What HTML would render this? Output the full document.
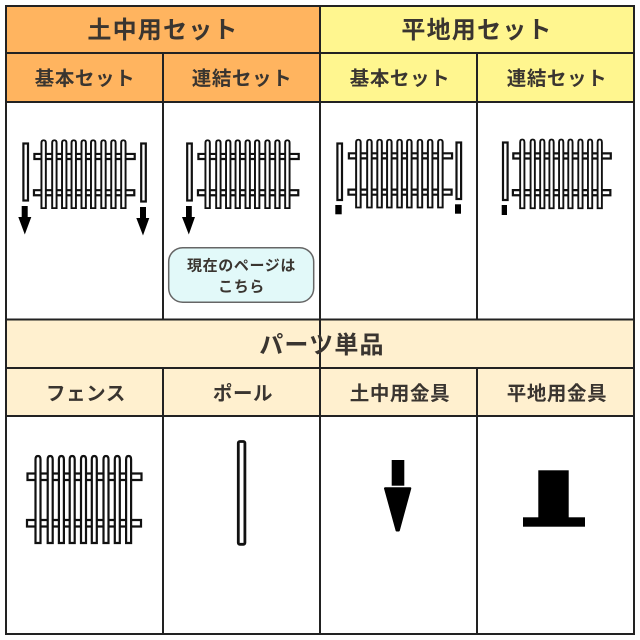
<!DOCTYPE html>
<html lang="ja">
<head>
<meta charset="utf-8">
<title>セット一覧</title>
<style>
html,body{margin:0;padding:0;background:#fff;width:640px;height:640px;overflow:hidden}
svg{display:block}
text{font-family:"Liberation Sans","Noto Sans CJK JP",sans-serif;font-weight:700;fill:#3a3530;text-anchor:middle}
.h1{font-size:24px;letter-spacing:1.2px}
.h2{font-size:19.5px;letter-spacing:.6px}
.h3{font-size:15px;letter-spacing:.6px}
.ln{stroke:#222;stroke-width:2;fill:none}
.o{fill:#fff;stroke:#111;stroke-width:2.2;vector-effect:non-scaling-stroke}
.p{fill:#fff;stroke:#111;stroke-width:2.2}
.k{fill:#000}
</style>
</head>
<body>
<svg width="640" height="640" viewBox="0 0 640 640" xmlns="http://www.w3.org/2000/svg">
<defs>
  <path id="pk" d="M35.5 543V459.5Q35.5 456 38 456Q40.5 456 40.5 459.5V543Z"/>
  <g id="fence">
    <rect class="o" x="27.5" y="473.5" width="114" height="6.5"/>
    <rect class="o" x="27" y="520" width="114" height="6.5"/>
    <use href="#pk" class="o" x="0"/>
    <use href="#pk" class="o" x="12.2"/>
    <use href="#pk" class="o" x="23.4"/>
    <use href="#pk" class="o" x="34.2"/>
    <use href="#pk" class="o" x="45.5"/>
    <use href="#pk" class="o" x="56.3"/>
    <use href="#pk" class="o" x="68"/>
    <use href="#pk" class="o" x="79.3"/>
    <use href="#pk" class="o" x="90.6"/>
  </g>
</defs>

<rect width="640" height="640" fill="#fff"/>

<!-- header fills -->
<rect x="6" y="6" width="314" height="96" fill="#ffb45f"/>
<rect x="320" y="6" width="314" height="96" fill="#fff68f"/>
<rect x="6" y="319" width="628" height="97" fill="#fff0cf"/>

<!-- grid -->
<path class="ln" d="M6 6H634V634H6Z"/>
<path class="ln" d="M6 53H634M6 102H634M6 319.5H634M6 368H634M6 416H634"/>
<path class="ln" d="M320 6V368M163 53V319M477 53V319M163 368V634M320 368V634M477 368V634"/>

<!-- headers -->
<text class="h1" x="163" y="38">土中用セット</text>
<text class="h1" x="477" y="38">平地用セット</text>
<text class="h2" x="85" y="85">基本セット</text>
<text class="h2" x="242" y="85">連結セット</text>
<text class="h2" x="400" y="85">基本セット</text>
<text class="h2" x="557" y="85">連結セット</text>
<text class="h1" x="322" y="353">パーツ単品</text>
<text class="h2" x="86" y="400">フェンス</text>
<text class="h2" x="243" y="400">ポール</text>
<text class="h2" x="400" y="400">土中用金具</text>
<text class="h2" x="557" y="400">平地用金具</text>

<!-- cell 1 -->
<use href="#fence" transform="translate(10.2 -215.4) scale(.88 .78)"/>
<rect class="p" x="23.4" y="143.5" width="4.6" height="57"/>
<rect class="p" x="141.2" y="143.5" width="4.6" height="58"/>
<path class="k" d="M21.7 206H27.7V217H31.3L24.8 234.5L18.3 217H21.7Z"/>
<path class="k" d="M140 207H146V218H149.3L143 235.5L136.3 218H140Z"/>

<!-- cell 2 -->
<use href="#fence" transform="translate(174.2 -215.4) scale(.88 .78)"/>
<rect class="p" x="187.2" y="143.5" width="4.6" height="57"/>
<path class="k" d="M186 206H191.8V217H195L188.8 234.5L182 217H186Z"/>
<rect x="168.7" y="247.7" width="145" height="54.5" rx="14" fill="#e2f9f9" stroke="#666" stroke-width="1.5"/>
<text class="h3" x="241.5" y="270.5">現在のページは</text>
<text class="h3" x="241.5" y="291.5">こちら</text>

<!-- cell 3 -->
<use href="#fence" transform="translate(324 -216) scale(.905 .78)"/>
<rect class="p" x="337.4" y="143.5" width="4.6" height="56.5"/>
<rect class="p" x="456.5" y="142.5" width="4.6" height="56.5"/>
<rect class="k" x="335.3" y="205" width="6.4" height="9.3"/>
<rect class="k" x="455" y="204.3" width="6" height="9.4"/>

<!-- cell 4 -->
<use href="#fence" transform="translate(489.8 -220.7) scale(.855 .79)"/>
<rect class="p" x="503" y="142.5" width="4.6" height="57.5"/>
<rect class="k" x="501.7" y="205" width="5.3" height="10"/>

<!-- parts -->
<use href="#fence"/>
<rect x="238.3" y="441.5" width="6.6" height="102.8" rx="1.5" fill="#fff" stroke="#111" stroke-width="2.8"/>
<rect class="k" x="391.7" y="460" width="12.6" height="25.7"/>
<path class="k" stroke="#000" stroke-width="2" stroke-linejoin="round" d="M385 488.3H410.3L398.8 530.5H396.6Z"/>
<rect class="k" x="538.3" y="470.3" width="30.4" height="48"/>
<rect class="k" x="523" y="517.3" width="62" height="9.4"/>
</svg>
</body>
</html>
